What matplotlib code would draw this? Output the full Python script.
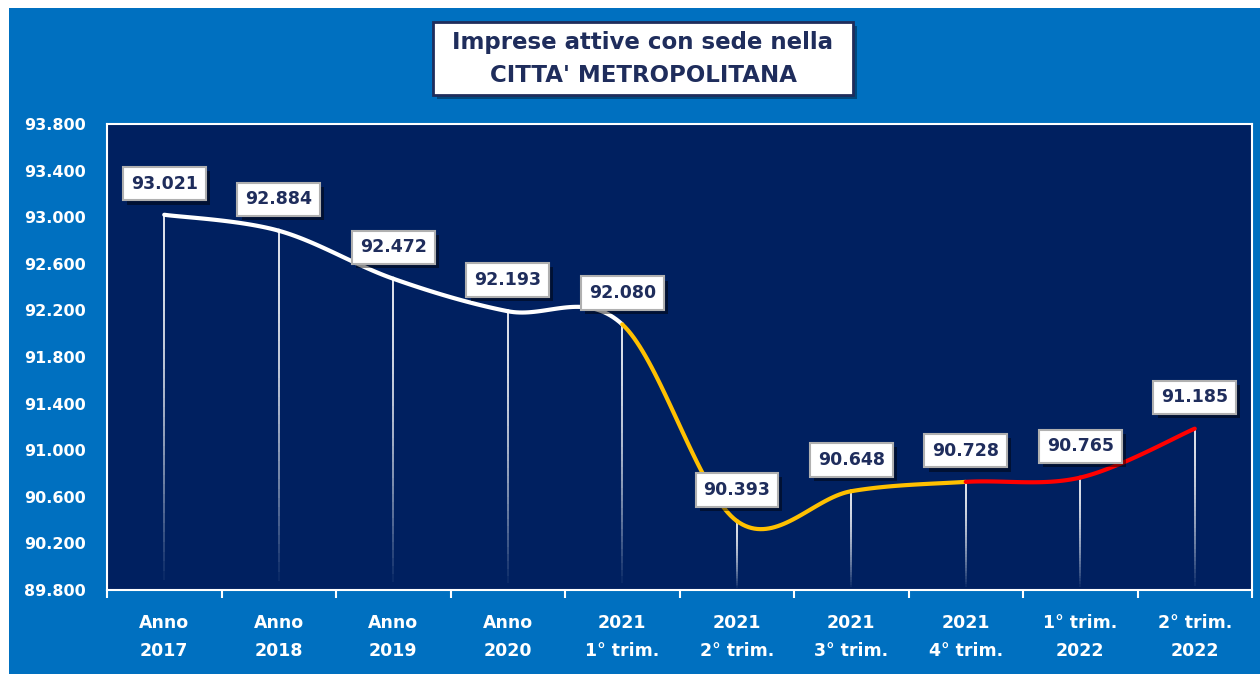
import matplotlib.pyplot as plt
import numpy as np
from matplotlib.patches import Rectangle
from matplotlib.collections import LineCollection
import matplotlib.patheffects as pe

# dati
categorie = ["Anno\n2017", "Anno\n2018", "Anno\n2019", "Anno\n2020",
             "2021\n1° trim.", "2021\n2° trim.", "2021\n3° trim.", "2021\n4° trim.",
             "1° trim.\n2022", "2° trim.\n2022"]
imprese = [93021, 92884, 92472, 92193, 92080, 90393, 90648, 90728, 90765, 91185]
y_ticks = [89800, 90200, 90600, 91000, 91400, 91800, 92200, 92600, 93000, 93400, 93800]
colori_tratti = ["#ffffff"] * 4 + ["#ffc000"] * 3 + ["#ff0000"] * 2

BLU = "#0070c0"
NAVY = "#002060"
TESTO = "#1f2d5c"


def fmt(v):
    return f"{v:,}".replace(",", ".")


fig = plt.figure(figsize=(12.6, 6.74), dpi=100, facecolor="white")
fig.patches.append(Rectangle((9 / 1260, 0), 1, 666 / 674, transform=fig.transFigure,
                             facecolor=BLU, edgecolor="none", zorder=-10))

ax = fig.add_axes([107 / 1260, 84 / 674, 1145 / 1260, 466 / 674], zorder=1)
ax.set_facecolor(NAVY)
for s in ax.spines.values():
    s.set_color("white")
    s.set_linewidth(1.5)

x = np.arange(len(imprese))
y = np.array(imprese, dtype=float)

# linee verticali sfumate
for xi, yi in zip(x, y):
    ys = np.linspace(yi, y_ticks[0], 40)
    segs = [[(xi, ys[k]), (xi, ys[k + 1])] for k in range(len(ys) - 1)]
    alphas = 0.95 * (1 - np.linspace(0, 1, len(segs)) ** 2)
    cols = [(1, 1, 1, a) for a in alphas]
    ax.add_collection(LineCollection(segs, colors=cols, linewidths=1.3, zorder=2))

# curva smussata (bezier tipo Excel)
pts = np.column_stack([x, y])
n = len(pts)
for i in range(n - 1):
    p0 = pts[max(i - 1, 0)]
    p1 = pts[i]
    p2 = pts[i + 1]
    p3 = pts[min(i + 2, n - 1)]
    c1 = p1 + (p2 - p0) / 6
    c2 = p2 - (p3 - p1) / 6
    t = np.linspace(0, 1, 40)[:, None]
    curva = ((1 - t) ** 3) * p1 + 3 * ((1 - t) ** 2) * t * c1 + 3 * (1 - t) * t ** 2 * c2 + t ** 3 * p2
    ax.plot(curva[:, 0], curva[:, 1], color=colori_tratti[i], lw=3, solid_capstyle="round", zorder=3)

# etichette dati
for xi, yi in zip(x, y):
    t = ax.annotate(fmt(int(yi)), (xi, yi), xytext=(0, 16), textcoords="offset points",
                    ha="center", va="bottom", fontsize=12.5, fontweight="bold", color=TESTO,
                    bbox=dict(boxstyle="square,pad=0.45", fc="white", ec="#b0b0b0", lw=1.5), zorder=5)
    t.get_bbox_patch().set_path_effects([pe.SimplePatchShadow(offset=(3, -3), shadow_rgbFace="black", alpha=0.45),
                                         pe.Normal()])

ax.set_xlim(-0.5, len(imprese) - 0.5)
ax.set_ylim(y_ticks[0], y_ticks[-1])
ax.set_yticks(y_ticks)
ax.set_yticklabels([fmt(v) for v in y_ticks], fontsize=11.5, fontweight="bold", color="white")
ax.tick_params(axis="y", length=0, pad=15)
ax.set_xticks(x)
ax.set_xticklabels(categorie, fontsize=12.5, fontweight="bold", color="white", linespacing=1.75)
ax.tick_params(axis="x", which="major", length=0, pad=17)
ax.set_xticks(np.arange(len(imprese) + 1) - 0.5, minor=True)
ax.tick_params(axis="x", which="minor", length=6, color="white", width=1.5, direction="out")

# titolo
fig.patches.append(Rectangle((437 / 1260, 1 - 99 / 674), 420 / 1260, 73 / 674, transform=fig.transFigure,
                             facecolor=(0, 0, 0, 0.35), edgecolor="none", zorder=5))
fig.patches.append(Rectangle((433 / 1260, 1 - 95 / 674), 420 / 1260, 73 / 674, transform=fig.transFigure,
                             facecolor="white", edgecolor=TESTO, lw=2, zorder=6))
fig.text(643 / 1260, 1 - 43 / 674, "Imprese attive con sede nella", ha="center", va="center",
         fontsize=16.5, fontweight="bold", color=TESTO, zorder=7)
fig.text(643 / 1260, 1 - 76 / 674, "CITTA' METROPOLITANA", ha="center", va="center",
         fontsize=16.5, fontweight="bold", color=TESTO, zorder=7)

fig.savefig("out.png", dpi=100, facecolor=fig.get_facecolor())
